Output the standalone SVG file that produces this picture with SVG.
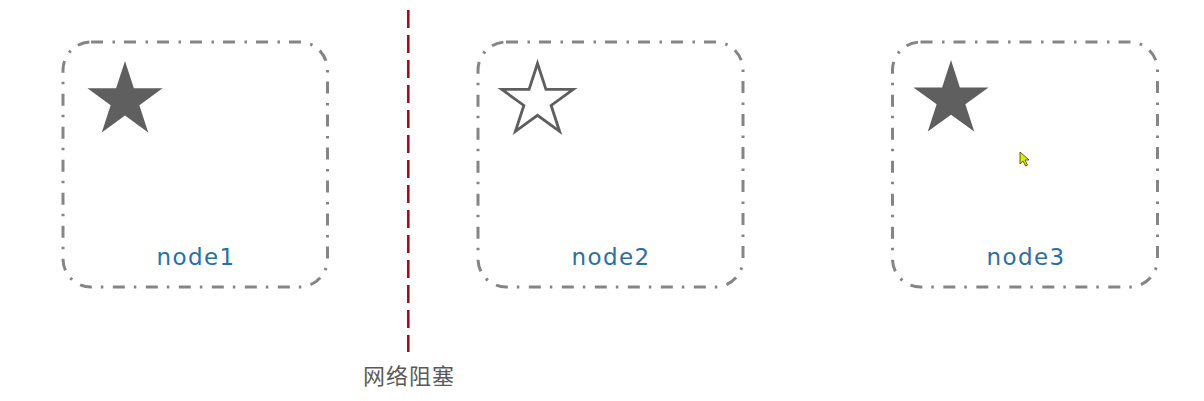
<svg xmlns="http://www.w3.org/2000/svg" width="1204" height="401" viewBox="0 0 1204 401">
  <style>
    .box { fill: none; stroke: #858585; stroke-width: 3; stroke-dasharray: 12 9.5 2.5 9; }
    .lbl { font-family: "DejaVu Sans", "Liberation Sans", sans-serif; font-size: 23px; fill: #2a6fa6; text-anchor: middle; letter-spacing: 1.4px; }
    .cn { font-family: "Noto Sans CJK SC", "DejaVu Sans", sans-serif; font-size: 22px; fill: #5a5a5a; text-anchor: middle; letter-spacing: 1px; }
    .starF { fill: #5f5f5f; }
    .starO { fill: #ffffff; stroke: #5f5f5f; stroke-width: 3; }
  </style>
  <defs>
    <path id="star" d="M0,-39.5 L8.88,-12.22 L37.57,-12.21 L14.36,4.67 L23.22,31.96 L0,15.1 L-23.22,31.96 L-14.36,4.67 L-37.57,-12.21 L-8.88,-12.22 Z"/>
  </defs>
  <rect width="1204" height="401" fill="#ffffff"/>

  <g id="node1">
    <rect class="box" x="63" y="42" width="264.5" height="245" rx="28" ry="28"/>
    <use href="#star" class="starF" transform="translate(125,100.5)"/>
    <text class="lbl" x="196" y="264.5">node1</text>
  </g>

  <g id="node2">
    <rect class="box" x="478" y="42" width="265" height="245" rx="28" ry="28"/>
    <use href="#star" class="starO" transform="translate(537.5,101) scale(0.95)"/>
    <text class="lbl" x="611" y="264.5">node2</text>
  </g>

  <g id="node3">
    <rect class="box" x="892.5" y="42" width="265" height="245" rx="28" ry="28"/>
    <use href="#star" class="starF" transform="translate(951,99.6)"/>
    <text class="lbl" x="1026" y="264.5">node3</text>
  </g>

  <g id="connectors">
    <line x1="408.3" y1="10" x2="408.3" y2="352" stroke="#8e0f1e" stroke-width="2.5" stroke-dasharray="18 7"/>
  </g>

  <g id="partition-label">
    <text class="cn" x="409" y="384">网络阻塞</text>
  </g>

  <g id="cursor">
    <polygon points="1020,152 1020,164 1023,161 1025.5,166 1027.5,165 1025,160 1029,160" fill="#d8ec00" stroke="#3a3a00" stroke-width="0.8"/>
  </g>
</svg>
